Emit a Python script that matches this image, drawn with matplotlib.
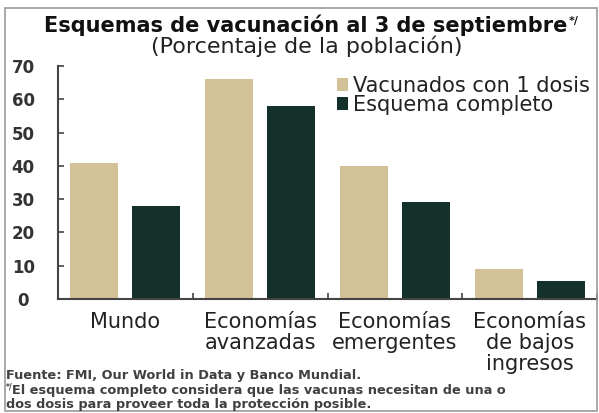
import numpy as np
import matplotlib
matplotlib.use('Agg')
from matplotlib import pyplot as plt
from matplotlib.patches import Rectangle

categories = ['Mundo', 'Economías\navanzadas', 'Economías\nemergentes',
              'Economías\nde bajos\ningresos']
una_dosis = [41, 66, 40, 9]
esquema_completo = [28, 58, 29, 5.5]
series_labels = ['Vacunados con 1 dosis', 'Esquema completo']
y_ticks = [0, 10, 20, 30, 40, 50, 60, 70]

title = 'Esquemas de vacunación al 3 de septiembre'
subtitle = '(Porcentaje de la población)'
notes = ['Fuente: FMI, Our World in Data y Banco Mundial.',
         'El esquema completo considera que las vacunas necesitan de una o',
         'dos dosis para proveer toda la protección posible.']

color_light = '#D3C197'
color_dark = '#13302A'
text_color = '#222222'

W, H = 599, 413
fig = plt.figure(figsize=(W / 100, H / 100), dpi=100)


def fx(px):
    return px / W


def fy(py):
    return 1 - py / H


# frame around the figure
fig.patches.append(Rectangle((fx(5), fy(411)), fx(592), 403 / H,
                             transform=fig.transFigure, fill=False,
                             edgecolor='#9a9a9a', linewidth=1.2))

ax = fig.add_axes([fx(58), fy(299), fx(539), 233 / H])
x = np.arange(len(categories))
w = 0.356
ax.bar(x - 0.23, una_dosis, w, color=color_light, label=series_labels[0])
ax.bar(x + 0.23, esquema_completo, w, color=color_dark, label=series_labels[1])
ax.set_xlim(-0.5, 3.5)
ax.set_ylim(0, 70)
ax.set_yticks(y_ticks)
ax.set_xticks(np.arange(0.5, 3.6, 1))
ax.set_xticklabels([])
ax.set_xticks(x, minor=True)
ax.set_xticklabels(categories, minor=True, fontsize=15, color=text_color,
                   linespacing=1.08, va='top')
ax.tick_params(axis='x', which='minor', length=0, pad=9)
ax.tick_params(axis='x', which='major', direction='in', length=4,
               color='#444444', width=1.2)
ax.tick_params(axis='y', direction='in', length=4, color='#444444',
               width=1.2, pad=25, labelsize=12, labelcolor='#333333')
for lab in ax.get_yticklabels():
    lab.set_ha('center')
    lab.set_fontweight('bold')
for side in ['top', 'right']:
    ax.spines[side].set_visible(False)
for side in ['left', 'bottom']:
    ax.spines[side].set_color('#444444')
    ax.spines[side].set_linewidth(1.5)

leg = ax.legend(loc='upper left', bbox_to_anchor=(fx(337), fy(76)),
                bbox_transform=fig.transFigure, frameon=False,
                fontsize=15, handlelength=0.55, handleheight=0.55,
                handletextpad=0.2, labelspacing=-0.05, borderaxespad=0,
                borderpad=0)
for t in leg.get_texts():
    t.set_color(text_color)

t1 = fig.text(fx(306), fy(32), title, ha='center', va='baseline',
              fontsize=15, fontweight='bold', color='#111111')
fig.canvas.draw()
bb = t1.get_window_extent()
fig.text(bb.x1 / W + 0.002, fy(24), '*/', ha='left', va='baseline',
         fontsize=8, fontweight='bold', color='#111111')
fig.text(fx(307), fy(53), subtitle, ha='center', va='baseline',
         fontsize=16, color=text_color)

note_kw = dict(ha='left', va='baseline', fontsize=9.3, fontweight='bold',
               color='#404040')
fig.text(fx(6), fy(379), notes[0], **note_kw)
fig.text(fx(6), fy(389), '*/', ha='left', va='baseline', fontsize=5.5,
         fontweight='bold', color='#404040')
fig.text(fx(12), fy(394), notes[1], **note_kw)
fig.text(fx(6), fy(408), notes[2], **note_kw)

fig.savefig('out.png', dpi=100)
